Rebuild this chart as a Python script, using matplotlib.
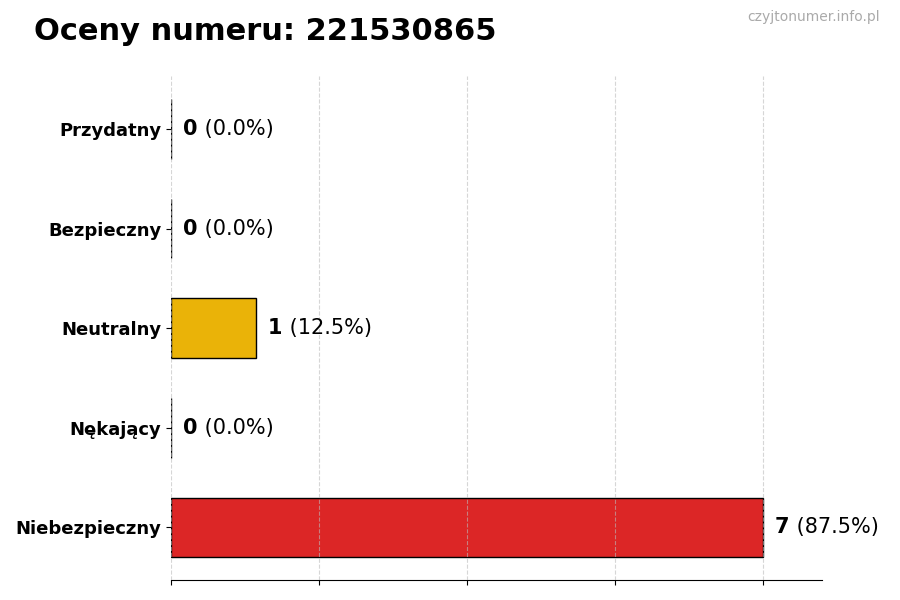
import matplotlib
matplotlib.use("Agg")
import matplotlib.pyplot as plt

categories = ["Niebezpieczny", "Nękający", "Neutralny", "Bezpieczny", "Przydatny"]
counts = [7, 0, 1, 0, 0]
colors = ["#dc2626", "#f97316", "#eab308", "#3b82f6", "#22c55e"]
title = "Oceny numeru: 221530865"
watermark = "czyjtonumer.info.pl"

total = sum(counts)

fig = plt.figure(figsize=(9, 6), dpi=100)
ax = fig.add_axes([0.19, 0.033, 0.723, 0.84])
ax.set_axisbelow(False)

ypos = list(range(len(categories)))
ax.barh(ypos, counts, height=0.6, color=colors, edgecolor="black", linewidth=1, zorder=1)

ax.set_yticks(ypos)
ax.set_yticklabels(categories, fontsize=13, fontweight="bold")
mx = max(counts)
ax.set_xlim(0, mx * 1.1)
ax.set_xticks([mx * i / 4 for i in range(5)])
ax.set_xticklabels([])
ax.grid(axis="x", linestyle="--", color="#bbbbbb", alpha=0.6, linewidth=0.8)
for s in ["top", "right", "left"]:
    ax.spines[s].set_visible(False)

for y, c in zip(ypos, counts):
    t = ax.annotate(str(c), xy=(c, y), xytext=(9, 0), textcoords="offset points",
                    va="center", ha="left", fontsize=15, fontweight="bold")
    pct = 100 * c / total
    ax.annotate(f" ({pct:.1f}%)", xy=(1, 0.5), xycoords=t, va="center", ha="left",
                fontsize=15)

fig.text(0.038, 0.948, title, fontsize=22, fontweight="bold", va="center", ha="left")
fig.text(0.978, 0.971, watermark, fontsize=10, color="#aaaaaa", va="center", ha="right")

fig.savefig("out.png", dpi=100)
